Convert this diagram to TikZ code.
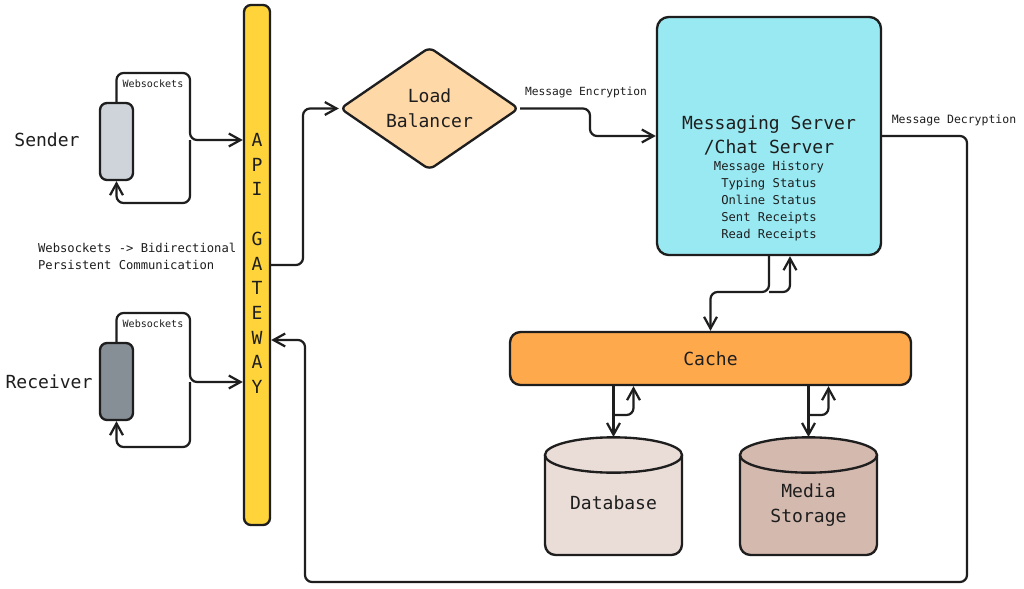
\documentclass[tikz,border=0pt]{standalone}
\usepackage{fontspec}
\setmainfont{DejaVu Sans Mono}
\usepackage{tikz}
\usetikzlibrary{shapes.geometric, arrows.meta, positioning, calc}

\definecolor{apiyellow}{HTML}{FFD43B}
\definecolor{sendergray}{HTML}{CED4DA}
\definecolor{receivergray}{HTML}{868E96}
\definecolor{lbpeach}{HTML}{FFD8A8}
\definecolor{servercyan}{HTML}{99E9F2}
\definecolor{cacheorange}{HTML}{FFA94D}
\definecolor{dbpink}{HTML}{EADDD8}
\definecolor{mediabrown}{HTML}{D4B9AE}
\definecolor{ink}{HTML}{1E1E1E}

\tikzset{
	box/.style={draw=ink, line width=2pt, rounded corners=6pt},
	big/.style={font=\fontsize{15.4}{21}\selectfont, text=ink},
	mid/.style={font=\fontsize{10.4}{14.5}\selectfont, text=ink},
	tiny/.style={font=\fontsize{8.6}{10}\selectfont, text=ink},
	conn/.style={draw=ink, line width=1.9pt, rounded corners=6pt, -{Straight Barb[length=10pt,width=11pt]}},
	storebody/.style={draw=ink, line width=2pt, rounded corners=9pt},
	storetop/.style={draw=ink, line width=2pt},
}

\begin{document}
\begin{tikzpicture}[x=0.03cm, y=-0.03cm]
			
			\useasboundingbox[fill=white] (0,0) rectangle (1024,589);
			
			% gateway bar
			\node [box, fill=apiyellow, minimum width=0.78cm, minimum height=15.6cm] (api) at (257,265) {};
			\foreach \l/\k in {A/0, P/1, I/2, G/4, A/5, T/6, E/7, W/8, A/9, Y/10}
			\node [big] (api\k) at (257, 140+24.7*\k) {\l};
			
			% clients
			\node [box, fill=sendergray, minimum width=0.99cm, minimum height=2.31cm] (sender) at (116.5,141.5) {};
			\node [box, fill=receivergray, minimum width=0.99cm, minimum height=2.31cm] (receiver) at (116.5,381.5) {};
			\node [big] (sendertxt) at (47,140) {Sender};
			\node [big] (receivertxt) at (49,382) {Receiver};
			
			\node [tiny] (wsa) at (153,84) {Websockets};
			\node [tiny] (wsb) at (153,324) {Websockets};
			\node [mid, align=left, anchor=west] (wsnote) at (34,256) {Websockets -> Bidirectional\\Persistent Communication};
			
			% servers
			\node [draw=ink, line width=2pt, fill=lbpeach, diamond, rounded corners=5pt, shape aspect=1.45, inner sep=0pt,
				minimum width=5.37cm, minimum height=3.69cm, big, align=center] (lb) at (429.5,108.5) {Load\\Balancer};
			\node [box, fill=servercyan, rounded corners=10pt, minimum width=6.72cm, minimum height=7.14cm] (srv) at (769,136) {};
			\node [big, align=center] (srvtitle) at (769,135.5) {Messaging Server\\/Chat Server};
			\node [mid, align=center] (srvlist) at (769,201) {Message History\\Typing Status\\Online Status\\Sent Receipts\\Read Receipts};
			\node [box, fill=cacheorange, rounded corners=9pt, minimum width=12.03cm, minimum height=1.59cm, big] (cache) at (710.5,358.5) {Cache};
			
			% storage drums
			\draw [storebody, fill=dbpink] (545,455) -- (545,555) -- (682,555) -- (682,455);
			\draw [storetop, fill=dbpink] (613.5,455) ellipse [x radius=2.055cm, y radius=0.53cm];
			\node [big] (db) at (613.5,503) {Database};
			\coordinate (dbtop) at (613.5,437);
			\draw [storebody, fill=mediabrown] (740,455) -- (740,555) -- (877,555) -- (877,455);
			\draw [storetop, fill=mediabrown] (808.5,455) ellipse [x radius=2.055cm, y radius=0.53cm];
			\node [big, align=center] (media) at (808.5,505) {Media\\Storage};
			\coordinate (mediatop) at (808.5,437);
			
			% websocket loops
			\coordinate (sj) at (190,140);
			\coordinate (rj) at (190,382);
			\draw [conn] (sender.north) |- (190,73) -- (sj) -- (api.west |- sj);
			\draw [conn] (sj) -- (190,203) -| (sender.south);
			\draw [conn] (receiver.north) |- (190,313) -- (rj) -- (api.west |- rj);
			\draw [conn] (rj) -- (190,447) -| (receiver.south);
			
			% request path
			\draw [conn] (api.east |- 0,265) -- (303,265) |- (lb.west);
			\draw [conn] (lb.east) -- (590,108.5) -- (590,136) -- (srv.west);
			\node [tiny, font=\fontsize{9.6}{11}\selectfont] (enc) at (586,92) {Message Encryption};
			\draw [conn] (srv.east) -- (967,136) -- (967,582) -- (305,582) -- (305,340) -- (api.east |- 0,340);
			\node [tiny, font=\fontsize{9.8}{11}\selectfont] (dec) at (954,120) {Message Decryption};
			
			% storage links
			\coordinate (cj) at (769,292);
			\draw [conn] (srv.south) -- (cj) -| (cache.north);
			\draw [conn] (cj) -- (790,292) -- (srv.south -| 790,0);
			\draw [conn] (cache.south -| dbtop) -- (dbtop);
			\draw [conn] (613.5,415) -| (cache.south -| 633.5,0);
			\draw [conn] (cache.south -| mediatop) -- (mediatop);
			\draw [conn] (808.5,415) -| (cache.south -| 828.5,0);
			
\end{tikzpicture}
\end{document}
